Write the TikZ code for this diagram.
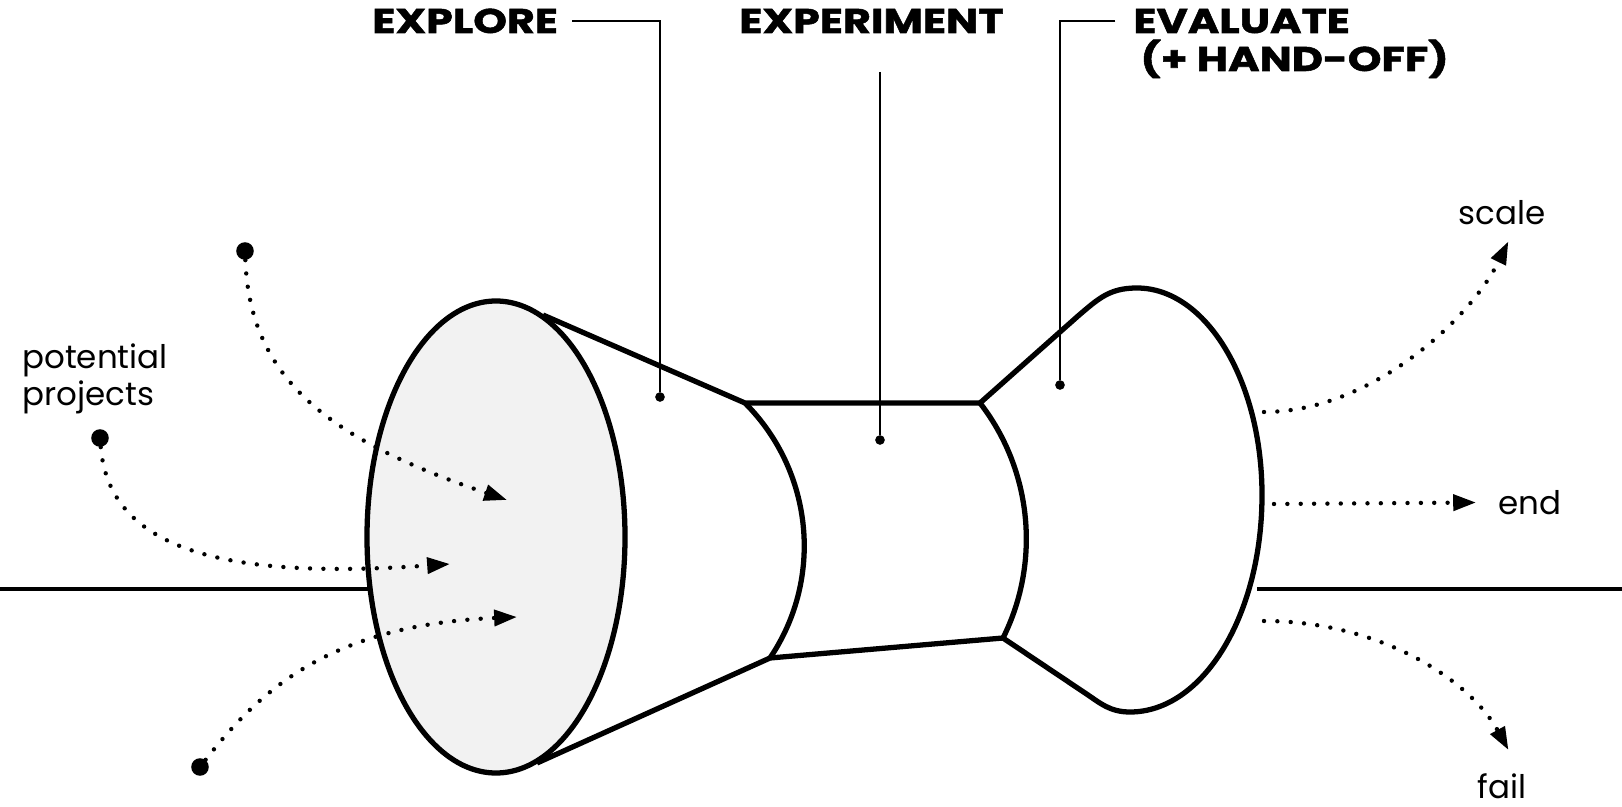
\documentclass[tikz,border=0pt]{standalone}
\usepackage{fontspec}
\setmainfont{Poppins}
\newfontfamily\titlefont[FakeStretch=1.25, FakeBold=1.6]{Poppins}
\usepackage{tikz}
\usetikzlibrary{positioning,arrows.meta,calc}
\definecolor{mouthgray}{gray}{0.95}
\tikzset{%
	shapeline/.style = {line width=3pt, line join=round},
	groundline/.style = {line width=2pt},
	leader/.style = {line width=1.3pt},
	spot/.style = {circle, fill, inner sep=0pt, minimum size=5.5pt},
	startdot/.style = {circle, fill, inner sep=0pt, minimum size=10pt},
	flow/.style = {line width=2.5pt, line cap=round, dash pattern=on 0pt off 7.6pt,
		-{Triangle[length=13pt, width=9pt]}},
	title/.style = {font=\titlefont\bfseries\fontsize{19.5}{23}\selectfont, inner sep=0pt},
	lbl/.style = {font=\fontsize{18.5}{21}\selectfont, inner sep=0pt}
}
\begin{document}
\begin{tikzpicture}[x=0.02cm, y=-0.02cm]
	\useasboundingbox (0,0) rectangle (1622,807);
	\coordinate (ul) at (745,403);
	\coordinate (ur) at (980,403);
	\coordinate (lr) at (1003,638);
	\coordinate (ll) at (770,658);

	\draw[groundline] (0,589) -- (370,589);
	\draw[groundline] (1257,589) -- (1622,589);

	\draw[shapeline, fill=mouthgray] (496,537) ellipse [x radius=129, y radius=236];
	\draw[shapeline] (543,315) -- (ul) -- (ur);
	\draw[shapeline] (537,763) -- (ll) -- (lr);
	\draw[shapeline] (ul) .. controls (813,471) and (824,578) .. (ll);
	\draw[shapeline] (ur) .. controls (1032,470) and (1041,562) .. (lr);
	\draw[shapeline] (ur) -- (1078,316) .. controls (1099,298) and (1110,288) .. (1137,288)
		.. controls (1206,288) and (1262,381) .. (1262,495)
		.. controls (1262,615) and (1203,712) .. (1130,712)
		.. controls (1110,712) and (1100,703) .. (1088,695) -- (lr);

	\node[title, anchor=base west] (explore) at (372,33) {EXPLORE};
	\node[title, anchor=base west] (experiment) at (739,33) {EXPERIMENT};
	\node[title, anchor=base west] (evaluate) at (1133,33) {EVALUATE};
	\node[title, anchor=base west] (handoff) at (1140,71) {(+ HAND-OFF)};

	\node[spot] (exploreDot) at (660,397) {};
	\node[spot] (experimentDot) at (880,440) {};
	\node[spot] (evaluateDot) at (1060,385) {};
	\coordinate (experimentTop) at (880,72);
	\draw[leader] ([xshift=8pt]explore.east) -| (exploreDot);
	\draw[leader] (experimentTop) -- (experimentDot);
	\draw[leader] ([xshift=-10pt]evaluate.west) -| (evaluateDot);

	\node[lbl, align=left, anchor=west] (potential) at (22,379) {potential\\projects};
	\node[startdot] (srcA) at (245,251) {};
	\node[startdot] (srcB) at (100,438) {};
	\node[startdot] (srcC) at (200,767) {};
	\coordinate (tipA) at (507,500);
	\coordinate (tipB) at (450,564);
	\coordinate (tipC) at (517,617);
	\draw[flow] (srcA) .. controls (250,380) and (330,440) .. (tipA);
	\draw[flow] (srcB) .. controls (110,560) and (250,578) .. (tipB);
	\draw[flow] (srcC) .. controls (260,690) and (330,625) .. (tipC);

	\node[lbl, anchor=base] (scale) at (1502,225) {scale};
	\node[lbl, anchor=base west] (end) at (1498,514) {end};
	\node[lbl, anchor=base] (fail) at (1502,798) {fail};
	\coordinate (scaleFrom) at (1264,412);
	\coordinate (endFrom) at (1274,504);
	\coordinate (failFrom) at (1264,621);
	\draw[flow, shorten >=10pt] (scaleFrom) .. controls (1370,412) and (1470,320) .. ([xshift=8pt]scale.south);
	\draw[flow, shorten >=12.5pt] (endFrom) -- (end);
	\draw[flow, shorten >=14.8pt] (failFrom) .. controls (1380,621) and (1470,680) .. ([xshift=10.8pt]fail.north);
\end{tikzpicture}
\end{document}
